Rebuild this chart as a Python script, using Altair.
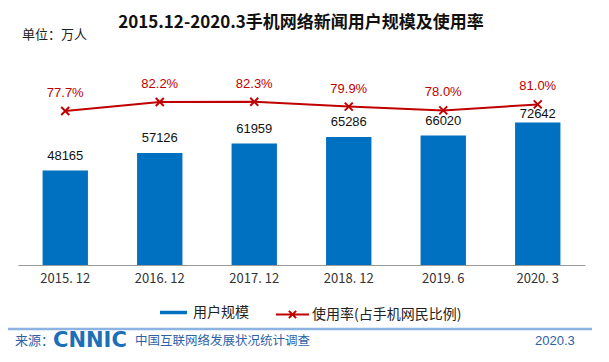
import altair as alt
import pandas as pd

# ---- data ----
periods = ["2015. 12", "2016. 12", "2017. 12", "2018. 12", "2019. 6", "2020. 3"]
users = [48165, 57126, 61959, 65286, 66020, 72642]
rates = [77.7, 82.2, 82.3, 79.9, 78.0, 81.0]
bar_series = "用户规模"
line_series = "使用率(占手机网民比例)"
title_text = "2015.12-2020.3手机网络新闻用户规模及使用率"

df = pd.DataFrame({"period": periods, "users": users, "rate": rates})
df["rate_label"] = [f"{r:.1f}%" for r in rates]
df["s_bar"] = bar_series
df["s_line"] = line_series

BLUE = "#0070C0"
RED = "#C00000"
FONT = "Noto Sans CJK SC"
NUMFONT = "Liberation Sans"
FOOT = "#2E62A6"

base = alt.Chart(df)

x = alt.X(
    "period:N",
    sort=periods,
    scale=alt.Scale(paddingInner=0.52, paddingOuter=0.26),
    axis=alt.Axis(
        title=None, labelAngle=0, labelFont=FONT, labelFontSize=13,
        labelColor="#333333", labelPadding=7, domain=True, domainColor="#999999",
        ticks=False, domainWidth=1, grid=False,
    ),
)

y_bar = alt.Y("users:Q", scale=alt.Scale(domain=[0, 100000]), axis=None)
y_line = alt.Y("rate:Q", scale=alt.Scale(domain=[0.7, 98.7]), axis=None)

bars = base.mark_bar().encode(
    x=x,
    y=y_bar,
    color=alt.Color(
        "s_bar:N",
        scale=alt.Scale(domain=[bar_series], range=[BLUE]),
        legend=alt.Legend(
            orient="none", legendX=140, legendY=228, title=None,
            symbolType="stroke", symbolSize=729, symbolStrokeWidth=3.5,
            symbolStrokeColor=BLUE, labelFont=FONT, labelFontSize=14,
            labelColor="#222222", labelOffset=4, padding=0,
        ),
    ),
)
bar_labels = base.mark_text(
    dy=-15, font=NUMFONT, fontSize=13, color="#111111", baseline="middle"
).encode(x=x, y=y_bar, text=alt.Text("users:Q", format="d")).transform_filter(
    alt.datum.period != periods[-1]
)
bar_labels_last = base.mark_text(
    dy=-9, font=NUMFONT, fontSize=13, color="#111111", baseline="middle"
).encode(x=x, y=y_bar, text=alt.Text("users:Q", format="d")).transform_filter(
    alt.datum.period == periods[-1]
)

line = base.mark_line(strokeWidth=2).encode(
    x=x,
    y=y_line,
    color=alt.Color(
        "s_line:N",
        scale=alt.Scale(domain=[line_series], range=[RED]),
        legend=alt.Legend(
            orient="none", legendX=257, legendY=228, title=None,
            symbolType="M-1,0L1,0M-0.22,-0.22L0.22,0.22M-0.22,0.22L0.22,-0.22",
            symbolSize=1089, symbolStrokeWidth=2, symbolStrokeColor=RED,
            labelFont=FONT, labelFontSize=14, labelColor="#222222",
            labelOffset=2, padding=0,
        ),
    ),
)
points = base.mark_point(
    shape="M-1,-1L1,1M-1,1L1,-1", size=64, strokeWidth=2, color=RED,
    filled=False, opacity=1,
).encode(x=x, y=y_line)
rate_labels = base.mark_text(
    dy=-18, font=NUMFONT, fontSize=13, color=RED, baseline="middle"
).encode(x=x, y=y_line, text="rate_label:N")

deco = alt.Chart(pd.DataFrame({"a": [0]}))
title = deco.mark_text(font=FONT, fontSize=17, fontWeight="bold", color="#111111",
                       align="center", baseline="middle").encode(
    x=alt.value(283), y=alt.value(-46), text=alt.value(title_text)
)
unit = deco.mark_text(font=FONT, fontSize=13, color="#222222", align="left", baseline="middle").encode(
    x=alt.value(4), y=alt.value(-34), text=alt.value("单位：万人")
)
foot_rule = deco.mark_rule(color="#8DB3E2", strokeWidth=2.5).encode(
    x=alt.value(-13), x2=alt.value(574), y=alt.value(260)
)
src = deco.mark_text(font=FONT, fontSize=13, color=FOOT, align="left", baseline="middle").encode(
    x=alt.value(-3), y=alt.value(272), text=alt.value("来源：")
)
logo = deco.mark_text(font="DejaVu Sans", fontSize=21, fontWeight="bold", color="#1A6FB8",
                      align="left", baseline="middle").encode(
    x=alt.value(35), y=alt.value(272), text=alt.value("CNNIC")
)
survey = deco.mark_text(font=FONT, fontSize=12.5, color=FOOT, align="left", baseline="middle").encode(
    x=alt.value(117), y=alt.value(272), text=alt.value("中国互联网络发展状况统计调查")
)
date = deco.mark_text(font=NUMFONT, fontSize=13, color=FOOT, align="left", baseline="middle").encode(
    x=alt.value(517), y=alt.value(272), text=alt.value("2020.3")
)

chart = (
    alt.layer(bars, bar_labels, bar_labels_last, line, points, rate_labels,
              title, unit, foot_rule, src, logo, survey, date)
    .resolve_scale(y="independent", color="independent")
    .resolve_legend(color="independent")
    .properties(
        width=567,
        height=196,
        autosize=alt.AutoSizeParams(type="none"),
        padding={"left": 10, "top": 61, "right": 16, "bottom": 89},
        background="white",
    )
    .configure_view(stroke=None, strokeWidth=0)
    .configure_axisY(domain=False, ticks=False, grid=False, labels=False)
)

chart.save("out.html", embed_options={"renderer": "svg", "actions": False})
